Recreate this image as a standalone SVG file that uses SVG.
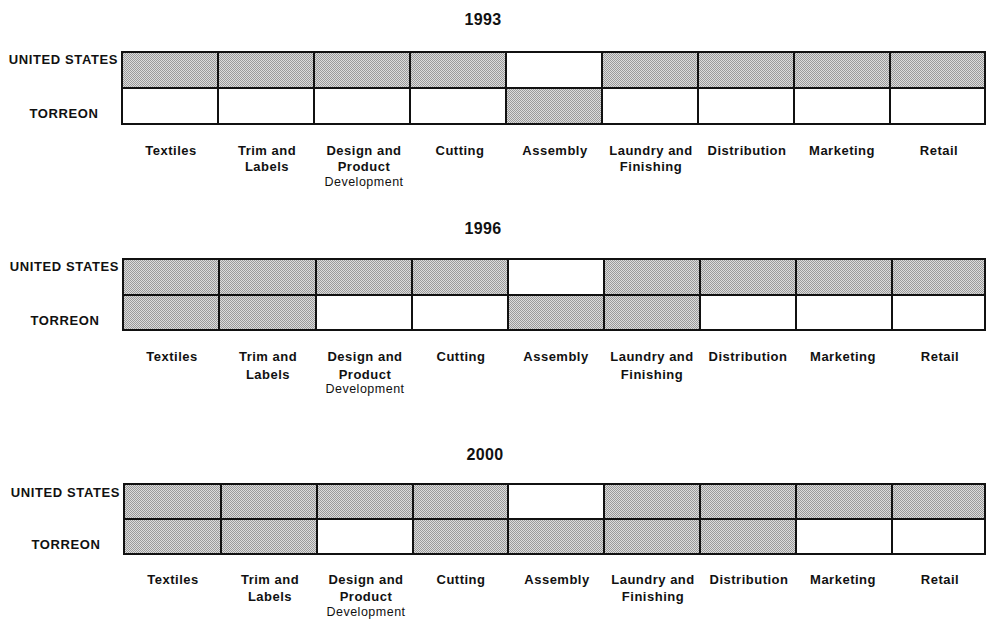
<svg xmlns="http://www.w3.org/2000/svg" width="986" height="619" viewBox="0 0 986 619">
<defs>
<pattern id="dots" width="2" height="2" patternUnits="userSpaceOnUse">
<rect width="2" height="2" fill="#dcdcdc"/>
<rect width="1" height="1" fill="#9a9a9a"/>
<rect x="1" y="1" width="1" height="1" fill="#9a9a9a"/>
</pattern>
<style>
text{font-family:"Liberation Sans",Arial,sans-serif;fill:#111}
.yr{font-size:16px;font-weight:bold;text-anchor:middle;letter-spacing:0.3px}
.row{font-size:13px;font-weight:bold;letter-spacing:0.6px}
.col{font-size:13px;font-weight:bold;text-anchor:middle;letter-spacing:0.5px}
.dev{font-size:12.5px;text-anchor:middle;letter-spacing:0.5px}
.s{fill:url(#dots)}
.w{fill:#fff}
.grid rect{stroke:#111;stroke-width:2}
</style>
</defs>
<rect width="986" height="619" fill="#fff"/>

<!-- 1993 -->
<g id="chart1993">
<text class="yr" x="483" y="25">1993</text>
<text class="row" x="118" y="64" text-anchor="end">UNITED STATES</text>
<text class="row" x="64" y="118" text-anchor="middle">TORREON</text>
<g class="grid">
<rect class="s" x="122" y="52" width="96" height="36"/>
<rect class="s" x="218" y="52" width="96" height="36"/>
<rect class="s" x="314" y="52" width="96" height="36"/>
<rect class="s" x="410" y="52" width="96" height="36"/>
<rect class="w" x="506" y="52" width="96" height="36"/>
<rect class="s" x="602" y="52" width="96" height="36"/>
<rect class="s" x="698" y="52" width="96" height="36"/>
<rect class="s" x="794" y="52" width="96" height="36"/>
<rect class="s" x="890" y="52" width="95" height="36"/>
<rect class="w" x="122" y="88" width="96" height="36"/>
<rect class="w" x="218" y="88" width="96" height="36"/>
<rect class="w" x="314" y="88" width="96" height="36"/>
<rect class="w" x="410" y="88" width="96" height="36"/>
<rect class="s" x="506" y="88" width="96" height="36"/>
<rect class="w" x="602" y="88" width="96" height="36"/>
<rect class="w" x="698" y="88" width="96" height="36"/>
<rect class="w" x="794" y="88" width="96" height="36"/>
<rect class="w" x="890" y="88" width="95" height="36"/>
</g>
<text class="col" x="171" y="155">Textiles</text>
<text class="col" x="267" y="155">Trim and</text>
<text class="col" x="267" y="171">Labels</text>
<text class="col" x="364" y="155">Design and</text>
<text class="col" x="364" y="171">Product</text>
<text class="dev" x="364" y="186">Development</text>
<text class="col" x="460" y="155">Cutting</text>
<text class="col" x="555" y="155">Assembly</text>
<text class="col" x="651" y="155">Laundry and</text>
<text class="col" x="651" y="171">Finishing</text>
<text class="col" x="747" y="155">Distribution</text>
<text class="col" x="842" y="155">Marketing</text>
<text class="col" x="939" y="155">Retail</text>
</g>

<!-- 1996 -->
<g id="chart1996">
<text class="yr" x="483" y="234">1996</text>
<text class="row" x="119" y="271" text-anchor="end">UNITED STATES</text>
<text class="row" x="65" y="325" text-anchor="middle">TORREON</text>
<g class="grid">
<rect class="s" x="123" y="259" width="96" height="36"/>
<rect class="s" x="219" y="259" width="97" height="36"/>
<rect class="s" x="316" y="259" width="96" height="36"/>
<rect class="s" x="412" y="259" width="96" height="36"/>
<rect class="w" x="508" y="259" width="96" height="36"/>
<rect class="s" x="604" y="259" width="96" height="36"/>
<rect class="s" x="700" y="259" width="96" height="36"/>
<rect class="s" x="796" y="259" width="96" height="36"/>
<rect class="s" x="892" y="259" width="93" height="36"/>
<rect class="s" x="123" y="295" width="96" height="35"/>
<rect class="s" x="219" y="295" width="97" height="35"/>
<rect class="w" x="316" y="295" width="96" height="35"/>
<rect class="w" x="412" y="295" width="96" height="35"/>
<rect class="s" x="508" y="295" width="96" height="35"/>
<rect class="s" x="604" y="295" width="96" height="35"/>
<rect class="w" x="700" y="295" width="96" height="35"/>
<rect class="w" x="796" y="295" width="96" height="35"/>
<rect class="w" x="892" y="295" width="93" height="35"/>
</g>
<text class="col" x="172" y="361">Textiles</text>
<text class="col" x="268" y="361">Trim and</text>
<text class="col" x="268" y="379">Labels</text>
<text class="col" x="365" y="361">Design and</text>
<text class="col" x="365" y="379">Product</text>
<text class="dev" x="365" y="393">Development</text>
<text class="col" x="461" y="361">Cutting</text>
<text class="col" x="556" y="361">Assembly</text>
<text class="col" x="652" y="361">Laundry and</text>
<text class="col" x="652" y="379">Finishing</text>
<text class="col" x="748" y="361">Distribution</text>
<text class="col" x="843" y="361">Marketing</text>
<text class="col" x="940" y="361">Retail</text>
</g>

<!-- 2000 -->
<g id="chart2000">
<text class="yr" x="485" y="460">2000</text>
<text class="row" x="120" y="497" text-anchor="end">UNITED STATES</text>
<text class="row" x="66" y="549" text-anchor="middle">TORREON</text>
<g class="grid">
<rect class="s" x="124" y="484" width="97" height="35"/>
<rect class="s" x="221" y="484" width="96" height="35"/>
<rect class="s" x="317" y="484" width="96" height="35"/>
<rect class="s" x="413" y="484" width="95" height="35"/>
<rect class="w" x="508" y="484" width="96" height="35"/>
<rect class="s" x="604" y="484" width="96" height="35"/>
<rect class="s" x="700" y="484" width="96" height="35"/>
<rect class="s" x="796" y="484" width="96" height="35"/>
<rect class="s" x="892" y="484" width="93" height="35"/>
<rect class="s" x="124" y="519" width="97" height="35"/>
<rect class="s" x="221" y="519" width="96" height="35"/>
<rect class="w" x="317" y="519" width="96" height="35"/>
<rect class="s" x="413" y="519" width="95" height="35"/>
<rect class="s" x="508" y="519" width="96" height="35"/>
<rect class="s" x="604" y="519" width="96" height="35"/>
<rect class="s" x="700" y="519" width="96" height="35"/>
<rect class="w" x="796" y="519" width="96" height="35"/>
<rect class="w" x="892" y="519" width="93" height="35"/>
</g>
<text class="col" x="173" y="584">Textiles</text>
<text class="col" x="270" y="584">Trim and</text>
<text class="col" x="270" y="601">Labels</text>
<text class="col" x="366" y="584">Design and</text>
<text class="col" x="366" y="601">Product</text>
<text class="dev" x="366" y="616">Development</text>
<text class="col" x="461" y="584">Cutting</text>
<text class="col" x="557" y="584">Assembly</text>
<text class="col" x="653" y="584">Laundry and</text>
<text class="col" x="653" y="601">Finishing</text>
<text class="col" x="749" y="584">Distribution</text>
<text class="col" x="843" y="584">Marketing</text>
<text class="col" x="940" y="584">Retail</text>
</g>
</svg>
